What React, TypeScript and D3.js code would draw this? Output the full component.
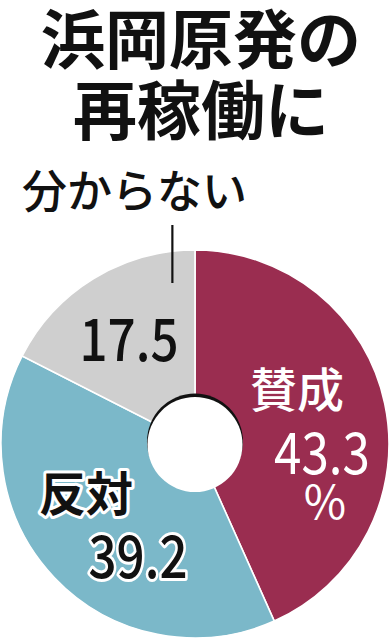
import React from "react";
import * as d3 from "d3";

const categories = ["賛成", "反対", "分からない"];
const values = [43.3, 39.2, 17.5];
const colors = ["#9a2d50", "#7bb8c9", "#cfcfcf"];
const titleLines = ["浜岡原発の", "再稼働に"];

const W = 391;
const H = 640;
const cx = 195;
const cy = 444;
const outerR = 194;
const holeR = 48;
const FONT = "'Noto Sans CJK JP', 'Noto Sans', sans-serif";
const NUM_SQUEEZE = 0.85;

type Slice = { name: string; value: number; color: string };

function Num({ x, y, size, weight, children }: { x: number; y: number; size: number; weight: number; children: React.ReactNode }) {
  return (
    <text
      transform={`translate(${x},${y}) scale(${NUM_SQUEEZE},1)`}
      textAnchor="middle"
      dominantBaseline="central"
      fontSize={size}
      fontWeight={weight}
    >
      {children}
    </text>
  );
}

export default function App() {
  const data: Slice[] = categories.map((c, i) => ({ name: c, value: values[i], color: colors[i] }));
  const pie = d3
    .pie<Slice>()
    .sort(null)
    .value((d) => d.value)
    .startAngle(0)
    .endAngle(Math.PI * 2);
  const arcs = pie(data);
  const arc = d3.arc<d3.PieArcDatum<Slice>>().innerRadius(0).outerRadius(outerR);

  // leader for the small "分からない" slice
  const unknownArc = arcs[2];
  const leaderAngle = unknownArc.endAngle - 0.12;
  const lx = Math.sin(leaderAngle) * (outerR - 5);

  return (
    <svg
      width={W}
      height={H}
      viewBox={`0 0 ${W} ${H}`}
      style={{ position: "absolute", left: 0, top: 0, background: "#fff" }}
      fontFamily={FONT}
    >
      <rect width={W} height={H} fill="#fff" />
      {titleLines.map((t, i) => (
        <text
          key={t}
          x={201}
          y={35 + i * 71}
          textAnchor="middle"
          dominantBaseline="central"
          fontSize={64}
          fontWeight={700}
          fill="#111"
        >
          {t}
        </text>
      ))}

      <g transform={`translate(${cx},${cy})`}>
        {arcs.map((a) => (
          <path key={a.data.name} d={arc(a) || ""} fill={a.data.color} stroke="#fff" strokeWidth={1.6} />
        ))}
        {/* centre hole with a dark rim on its upper edge */}
        <circle cx={0} cy={-2.5} r={holeR} fill="#111" />
        <circle cx={0} cy={0.5} r={holeR - 0.5} fill="#fff" />

        <line x1={lx} x2={lx} y1={-219} y2={-161} stroke="#111" strokeWidth={2.2} />
      </g>

      <text x={22} y={188} dominantBaseline="central" fontSize={45} fontWeight={500} fill="#111">
        {categories[2]}
      </text>
      <g fill="#111">
        <Num x={129} y={336} size={58} weight={500}>
          {values[2].toFixed(1)}
        </Num>
      </g>

      <text x={297} y={386} textAnchor="middle" dominantBaseline="central" fontSize={47} fontWeight={500} fill="#fff">
        {categories[0]}
      </text>
      <g fill="#fff">
        <Num x={322} y={449} size={58} weight={400}>
          {values[0].toFixed(1)}
        </Num>
      </g>
      <text x={325} y={499} textAnchor="middle" dominantBaseline="central" fontSize={46} fontWeight={400} fill="#fff">
        %
      </text>

      <g stroke="#fff" strokeWidth={6} strokeLinejoin="round" style={{ paintOrder: "stroke" }} fill="#111">
        <text x={86} y={490} textAnchor="middle" dominantBaseline="central" fontSize={47} fontWeight={700}>
          {categories[1]}
        </text>
        <Num x={138} y={553} size={58} weight={500}>
          {values[1].toFixed(1)}
        </Num>
      </g>
    </svg>
  );
}
